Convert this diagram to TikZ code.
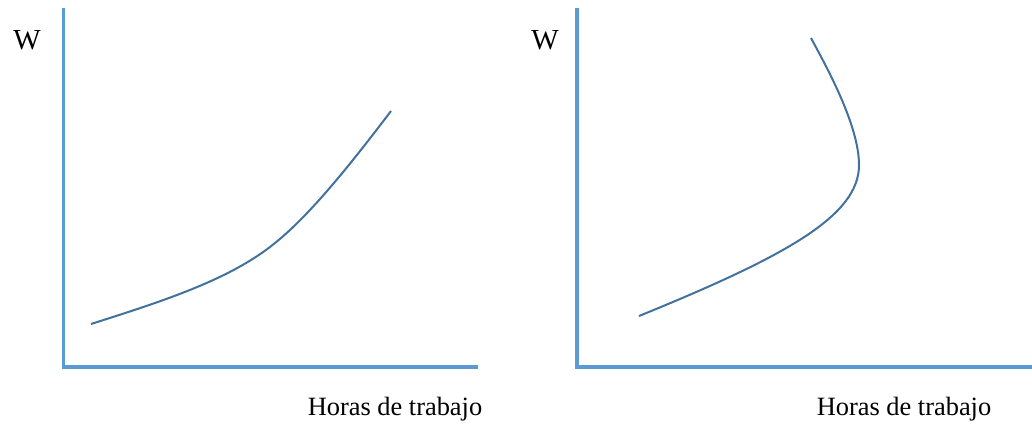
\documentclass[tikz,border=0pt]{standalone}
\usepackage{fontspec}
\setmainfont{Liberation Serif}
\definecolor{axisblue}{HTML}{5B9BD5}
\definecolor{curveblue}{HTML}{41719C}
\tikzset{
  axisline/.style={draw=axisblue, line width=1.6pt},
  curveline/.style={draw=curveblue, line width=1pt},
  lbl/.style={font=\fontsize{13.2}{16}\selectfont, inner sep=0pt},
  wlbl/.style={font=\fontsize{14.5}{16}\selectfont, inner sep=0pt}
}
\begin{document}
\begin{tikzpicture}[x=0.5pt,y=-0.5pt]
\useasboundingbox (0,0) rectangle (1032,423);
% left graph
\coordinate (ly) at (63.5,8);
\coordinate (lo) at (63.5,367);
\coordinate (lx) at (478,367);
\draw[axisline] (ly) -- (lo) -- (lx);
\node[wlbl] (lw) at (27,40.5) {W};
\node[lbl] (lh) at (395,409) {Horas de trabajo};
\coordinate (la) at (91,324);
\coordinate (lb) at (275,243);
\coordinate (lc) at (391,111);
\draw[curveline] (la) .. controls (160,302) and (230,280) .. (lb)
                 .. controls (310,215) and (350,165) .. (lc);
% right graph
\coordinate (ry) at (577,8);
\coordinate (ro) at (577,367);
\coordinate (rx) at (1032,367);
\draw[axisline] (ry) -- (ro) -- (rx);
\node[wlbl] (rw) at (545,40.5) {W};
\node[lbl] (rh) at (904,409) {Horas de trabajo};
\coordinate (ra) at (639,316);
\coordinate (rb) at (859,165);
\coordinate (rc) at (811,38);
\draw[curveline] (ra) .. controls (789,255) and (859,215) .. (rb)
                 .. controls (859,125) and (826,66) .. (rc);
\end{tikzpicture}
\end{document}
